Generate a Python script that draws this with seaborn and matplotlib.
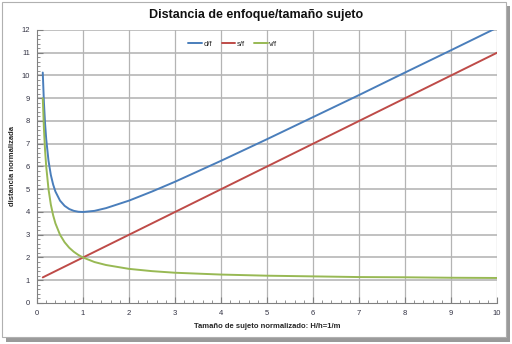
import matplotlib
matplotlib.use("Agg")
import matplotlib.pyplot as plt
import seaborn as sns
import pandas as pd
from matplotlib.patches import Rectangle
from matplotlib.ticker import MultipleLocator

x_vals = [0.125, 0.15, 0.175, 0.2, 0.25, 0.3, 0.35, 0.4, 0.5, 0.6, 0.7, 0.8, 0.9, 1.0,
          1.25, 1.5, 2, 2.5, 3, 4, 5, 6, 7, 8, 9, 10]
s_f = [1.125, 1.15, 1.175, 1.2, 1.25, 1.3, 1.35, 1.4, 1.5, 1.6, 1.7, 1.8, 1.9, 2.0,
       2.25, 2.5, 3, 3.5, 4, 5, 6, 7, 8, 9, 10, 11]
v_f = [9.0, 7.67, 6.71, 6.0, 5.0, 4.33, 3.86, 3.5, 3.0, 2.67, 2.43, 2.25, 2.11, 2.0,
       1.8, 1.67, 1.5, 1.4, 1.33, 1.25, 1.2, 1.17, 1.14, 1.13, 1.11, 1.1]
d_f = [10.13, 8.82, 7.89, 7.2, 6.25, 5.63, 5.21, 4.9, 4.5, 4.27, 4.13, 4.05, 4.01, 4.0,
       4.05, 4.17, 4.5, 4.9, 5.33, 6.25, 7.2, 8.17, 9.14, 10.13, 11.11, 12.1]
series_names = ["d/f", "s/f", "v/f"]
colors = ["#4A7EBB", "#BE4B48", "#98B954"]

title = "Distancia de enfoque/tamaño sujeto"
xlabel = "Tamaño de sujeto normalizado: H/h=1/m"
ylabel = "distancia normalizada"

rows = []
for name, vals in zip(series_names, [d_f, s_f, v_f]):
    for xv, yv in zip(x_vals, vals):
        rows.append({"x": xv, "y": yv, "serie": name})
df = pd.DataFrame(rows)

sns.set_theme(style="white")
plt.rcParams['font.family'] = ['Liberation Sans', 'DejaVu Sans']

fig = plt.figure(figsize=(5.12, 3.44), dpi=100)
ax = fig.add_axes([0.0723, 0.1192, 0.8984, 0.7936])
ax.patch.set_alpha(0)

# chart frame with shadow
fig.patches.append(Rectangle((0.988, 0.006), 0.008, 0.978, transform=fig.transFigure,
                             facecolor="#9A9A9A", edgecolor="none", zorder=-10))
fig.patches.append(Rectangle((0.012, 0.006), 0.984, 0.014, transform=fig.transFigure,
                             facecolor="#9A9A9A", edgecolor="none", zorder=-10))
fig.patches.append(Rectangle((0.004, 0.02), 0.984, 0.975, transform=fig.transFigure,
                             facecolor="white", edgecolor="#B0B0B0", linewidth=0.8,
                             zorder=-9))

ax.set_xlim(0, 10)
ax.set_ylim(0, 12)
for yv in range(1, 13):
    ax.axhline(yv, color="#B0B0B0", linewidth=1.1, zorder=0)
for xv in range(1, 11):
    ax.axvline(xv, color="#B4B4B4", linewidth=0.9, zorder=0)

sns.lineplot(data=df, x="x", y="y", hue="serie", palette=colors, ax=ax,
             linewidth=1.4, sort=False, estimator=None, legend=True)

ax.xaxis.set_major_locator(MultipleLocator(1))
ax.yaxis.set_major_locator(MultipleLocator(1))
ax.xaxis.set_minor_locator(MultipleLocator(0.2))
ax.yaxis.set_minor_locator(MultipleLocator(0.2))
ax.tick_params(axis="both", which="major", direction="in", length=4, width=0.8,
               color="#808080", labelsize=5.5, labelcolor="#333344", pad=5)
ax.tick_params(axis="both", which="minor", direction="in", length=2, width=0.6,
               color="#808080")
ax.tick_params(left=True, bottom=True, which="both")
for side in ["top", "right"]:
    ax.spines[side].set_visible(False)
for side in ["left", "bottom"]:
    ax.spines[side].set_color("#808080")
    ax.spines[side].set_linewidth(0.8)

ax.set_xlabel(xlabel, fontsize=5.5, fontweight="bold")
ax.set_ylabel(ylabel, fontsize=5.5, fontweight="bold")
ax.xaxis.set_label_coords(0.5, -0.075)
ax.yaxis.set_label_coords(-0.046, 0.5)
fig.text(0.5, 0.955, title, ha="center", va="center", fontsize=9, fontweight="bold",
         color="#111111")

leg = ax.legend(loc="center", bbox_to_anchor=(0.426, 0.949), ncol=3, frameon=False,
                fontsize=5.5, handlelength=1.8, handletextpad=0.2, columnspacing=1.2)

fig.savefig("out.png", dpi=100)
